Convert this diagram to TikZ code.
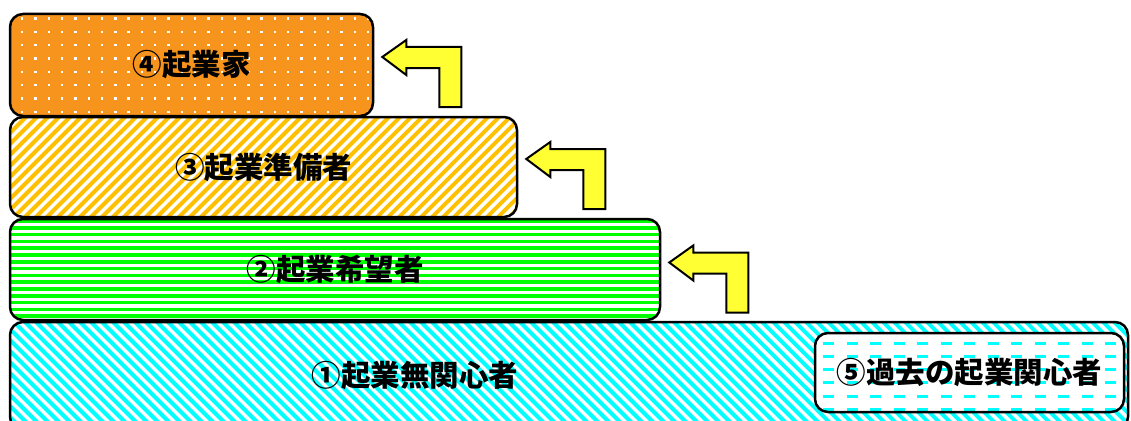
\documentclass[tikz,border=0pt]{standalone}
\usepackage{fontspec}
\newfontfamily\jpfont{Noto Sans CJK JP}
\usepackage{tikz}
\usetikzlibrary{positioning}
\definecolor{kaorange}{RGB}{247,148,30}
\definecolor{kagold}{RGB}{255,192,0}
\definecolor{kagreen}{RGB}{0,255,0}
\definecolor{kacyan}{RGB}{0,255,255}
\definecolor{kayellow}{RGB}{255,255,51}
\newcommand\ppnw{path picture bounding box.north west}
\tikzset{
  kaeri/.pic={
    \draw[kaeriarrow] (0,0) -- (24,-17) -- (24,-10) -- (79,-10) -- (79,50)
      -- (57,50) -- (57,11) -- (24,11) -- (24,18) -- cycle;
  }
}

\begin{document}
\begin{tikzpicture}[x=1pt,y=-1pt,
  box/.style={draw=black, line width=2.5pt, rounded corners=13pt, inner sep=0pt},
  jptext/.style={font={\jpfont\bfseries\fontsize{29.5pt}{31pt}\selectfont}},
  kaeriarrow/.style={draw=black, line width=2pt, fill=kayellow, line join=miter},
  hatch/.style={line width=3.9pt, sharp corners},
  kakodash/.style={kacyan, line width=3pt, sharp corners, dash pattern=on 11pt off 12.5pt}]
\useasboundingbox (0,0) rectangle (1131,420);
\clip (0,0) rectangle (1131,420);
\fill[white] (0,0) rectangle (1131,420);
% levels, bottom first
\node[box, fill=white, minimum width=1118pt, minimum height=108pt,
  path picture={\foreach \k in {0,...,115}
    \draw[hatch, kacyan] ([shift={(-110+11*\k,-4)}]\ppnw) -- ++(116,116);}] (lv1) at (569,376) {};
\node[jptext] (mukanshin) at (415,376) {①起業無関心者};
\node[box, jptext, fill=white, minimum width=650pt, minimum height=101pt,
  path picture={\foreach \k in {0,...,15}
    \draw[hatch, kagreen, line width=3.5pt] ([shift={(-5,2+6.8*\k)}]\ppnw) -- ++(660,0);}] (lv2) at (335,269.5) {②起業希望者};
\node[box, jptext, fill=white, minimum width=507pt, minimum height=100pt,
  path picture={\foreach \k in {0,...,57}
    \draw[hatch, kagold] ([shift={(-110+11*\k,104)}]\ppnw) -- ++(110,-110);}] (lv3) at (263.5,167) {\raisebox{-1.5pt}{③起業準備者}};
\node[box, jptext, fill=kaorange, minimum width=363pt, minimum height=102pt,
  path picture={\foreach \i in {0,...,26} \foreach \j in {0,...,7}
    \fill[white, sharp corners] ([shift={(11+13.3*\i,3.5+13.3*\j)}]\ppnw) rectangle ++(2.4,2.4);}] (lv4) at (191.5,65) {\raisebox{-2pt}{④起業家}};
% past interest
\node[box, jptext, fill=white, minimum width=309pt, minimum height=79pt,
  path picture={\foreach \k in {0,...,5}
    \draw[kakodash] ([shift={(8,10+13.3*\k)}]\ppnw) -- ++(300,0);}]
  (kako) at (969.5,372.5) {⑤過去の起業関心者};
% step-up arrows
\pic at ([shift={(8,-8)}]lv4.east) {kaeri};
\pic at ([shift={(8,-8)}]lv3.east) {kaeri};
\pic at ([shift={(8,-7)}]lv2.east) {kaeri};
\end{tikzpicture}
\end{document}
